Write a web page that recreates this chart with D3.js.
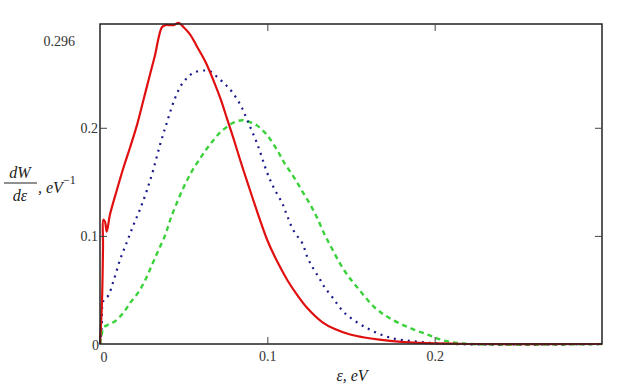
<!DOCTYPE html>
<html><head><meta charset="utf-8">
<script src="https://cdn.jsdelivr.net/npm/d3@7"></script>
<style>body{margin:0;background:#fff}svg{display:block}</style>
</head><body><svg id="c" width="617" height="386"></svg>
<script>
const xTicks = [0.1, 0.2];
const yTicks = [0.1, 0.2];
const xDomain = [0, 0.3];
const yDomain = [0, 0.296];

const redEps = [0,0.0012,0.0018,0.002,0.003,0.004,0.006,0.010,0.014,0.018,0.022,0.026,0.030,0.033,0.035,0.037,0.039,0.044,0.047,0.050,0.054,0.058,0.063,0.068,0.072,0.076,0.080,0.084,0.088,0.094,0.100,0.106,0.112,0.118,0.124,0.133,0.140,0.149,0.158,0.167,0.180,0.191,0.200,0.220,0.300];
const redVal = [0,0.04,0.09,0.115,0.113,0.104,0.120,0.142,0.163,0.182,0.202,0.226,0.250,0.268,0.283,0.293,0.295,0.295,0.297,0.293,0.286,0.275,0.261,0.243,0.227,0.208,0.189,0.169,0.150,0.122,0.096,0.076,0.059,0.045,0.033,0.020,0.014,0.009,0.006,0.004,0.002,0.001,0.0005,0,0];

const blueEps = [0,0.001,0.002,0.005,0.008,0.012,0.016,0.020,0.024,0.028,0.032,0.036,0.040,0.044,0.048,0.052,0.056,0.062,0.066,0.070,0.075,0.079,0.084,0.088,0.094,0.100,0.104,0.109,0.112,0.116,0.121,0.124,0.127,0.131,0.134,0.139,0.146,0.158,0.173,0.191,0.210,0.300];
const blueVal = [0,0.015,0.040,0.045,0.058,0.078,0.094,0.110,0.125,0.142,0.162,0.185,0.205,0.224,0.238,0.246,0.251,0.253,0.252,0.247,0.240,0.233,0.221,0.207,0.185,0.158,0.144,0.130,0.118,0.104,0.093,0.080,0.071,0.061,0.053,0.043,0.029,0.016,0.006,0.002,0,0];

const greenEps = [0,0.001,0.002,0.005,0.009,0.014,0.018,0.023,0.027,0.031,0.035,0.039,0.042,0.045,0.050,0.055,0.060,0.064,0.068,0.072,0.076,0.080,0.085,0.090,0.094,0.100,0.106,0.110,0.116,0.121,0.126,0.130,0.134,0.137,0.146,0.155,0.164,0.173,0.185,0.197,0.206,0.221,0.300];
const greenVal = [0,0.008,0.015,0.018,0.021,0.029,0.038,0.048,0.059,0.073,0.087,0.101,0.115,0.127,0.145,0.160,0.172,0.181,0.189,0.196,0.201,0.205,0.207,0.205,0.202,0.193,0.179,0.168,0.154,0.141,0.128,0.116,0.102,0.093,0.068,0.050,0.034,0.024,0.015,0.008,0.003,0,0];

const svg = d3.select("#c");
const L = 100, R = 602, T = 24, B = 344;
const x = d3.scaleLinear().domain(xDomain).range([L, R]);
const y = d3.scaleLinear().domain(yDomain).range([B, T]);

const line = d3.line().x(d => x(d[0])).y(d => y(d[1])).curve(d3.curveCatmullRom.alpha(0.5));
const zip = (a, b) => a.map((v, i) => [v, b[i]]);

svg.append("path").datum(zip(greenEps, greenVal)).attr("d", line)
  .attr("fill", "none").attr("stroke", "#3ad13a").attr("stroke-width", 2.4).attr("stroke-dasharray", "5,4");
svg.append("path").datum(zip(blueEps, blueVal)).attr("d", line)
  .attr("fill", "none").attr("stroke", "#1a1a8a").attr("stroke-width", 2.2).attr("stroke-dasharray", "2,5");
svg.append("path").datum(zip(redEps, redVal)).attr("d", line)
  .attr("fill", "none").attr("stroke", "#e01010").attr("stroke-width", 2.2).attr("stroke-linejoin", "round");

// frame
svg.append("rect").attr("x", L).attr("y", T).attr("width", R - L).attr("height", B - T)
  .attr("fill", "none").attr("stroke", "#222").attr("stroke-width", 1.5);

const font = "'Liberation Serif', 'Times New Roman', serif";
// bottom axis (ticks inward)
const gb = svg.append("g").attr("transform", `translate(0,${B})`)
  .call(d3.axisBottom(x).tickValues(xTicks).tickSize(-7).tickFormat(d3.format("")));
gb.select(".domain").remove();
gb.selectAll("text").attr("dy", "1.2em").attr("y", 0).style("font-family", font).style("font-size", "14px").attr("fill", "#333");
gb.selectAll("line").attr("stroke", "#444");
// top ticks
const gt = svg.append("g").attr("transform", `translate(0,${T})`)
  .call(d3.axisTop(x).tickValues(xTicks).tickSize(-7).tickFormat(""));
gt.select(".domain").remove(); gt.selectAll("line").attr("stroke", "#444");
// left axis
const gl = svg.append("g").attr("transform", `translate(${L},0)`)
  .call(d3.axisLeft(y).tickValues(yTicks).tickSize(-7).tickFormat(d3.format("")));
gl.select(".domain").remove();
gl.selectAll("text").attr("x", -2).style("font-family", font).style("font-size", "14px").attr("fill", "#333");
gl.selectAll("line").attr("stroke", "#444");
// right ticks
const gr = svg.append("g").attr("transform", `translate(${R},0)`)
  .call(d3.axisRight(y).tickValues(yTicks).tickSize(-7).tickFormat(""));
gr.select(".domain").remove(); gr.selectAll("line").attr("stroke", "#444");

// special labels
svg.append("text").attr("x", 75).attr("y", y(yDomain[1]) + 22).attr("text-anchor", "end")
  .style("font-family", font).style("font-size", "14px").attr("fill", "#333").text("0.296");
svg.append("text").attr("x", 99).attr("y", B + 6).attr("text-anchor", "end")
  .style("font-family", font).style("font-size", "14px").attr("fill", "#333").text("0");
svg.append("text").attr("x", x(0) + 4).attr("y", B + 18).attr("text-anchor", "middle")
  .style("font-family", font).style("font-size", "14px").attr("fill", "#333").text("0");

// y label
const yl = svg.append("g").style("font-family", font).style("font-style", "italic").style("font-size", "16px").attr("fill", "#222");
yl.append("text").attr("x", 20).attr("y", 178).attr("text-anchor", "middle").text("dW");
yl.append("line").attr("x1", 4).attr("x2", 37).attr("y1", 183).attr("y2", 183).attr("stroke", "#222").attr("stroke-width", 1.2);
yl.append("text").attr("x", 20).attr("y", 201).attr("text-anchor", "middle").text("dε");
const t2 = yl.append("text").attr("x", 38).attr("y", 193);
t2.append("tspan").text(", eV");
t2.append("tspan").attr("dy", -9).style("font-size", "12px").style("font-style", "normal").text("−1");

// x label
svg.append("text").attr("x", 352).attr("y", 381).attr("text-anchor", "middle")
  .style("font-family", font).style("font-style", "italic").style("font-size", "16px").attr("fill", "#222").text("ε, eV");
</script></body></html>
